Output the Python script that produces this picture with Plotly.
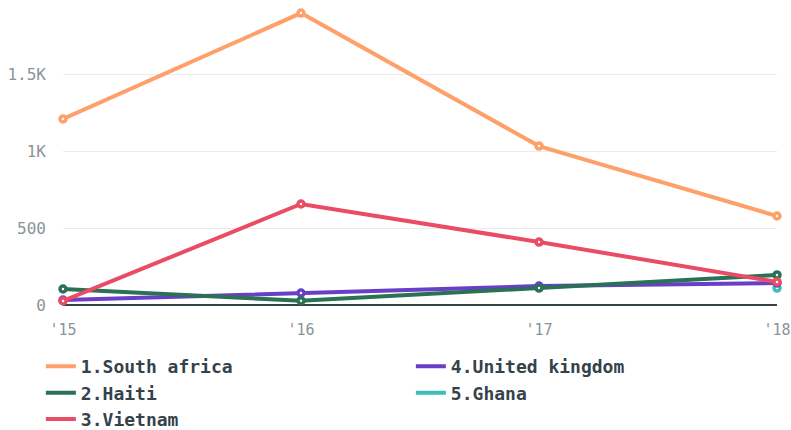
import plotly.graph_objects as go

years = [2015, 2016, 2017, 2018]
year_labels = ["'15", "'16", "'17", "'18"]

south_africa = [1208, 1896, 1032, 578]
haiti = [104, 28, 110, 195]
vietnam = [26, 656, 409, 150]
united_kingdom = [32, 78, 123, 143]
ghana = [None, None, None, 110]

series = [
    ("5.Ghana", ghana, "#3bbdb9", 4),
    ("4.United kingdom", united_kingdom, "#6a3fc8", 2),
    ("2.Haiti", haiti, "#2a7155", 3),
    ("3.Vietnam", vietnam, "#ea4c64", 5),
    ("1.South africa", south_africa, "#ffa06b", 1),
]

fig = go.Figure()
for name, vals, color, rank in series:
    fig.add_trace(go.Scatter(
        x=years, y=vals, name=name, mode="lines",
        line=dict(color=color, width=4),
        legendrank=rank, cliponaxis=False,
    ))
    fig.add_trace(go.Scatter(
        x=years, y=vals, name=name, mode="markers", showlegend=False,
        marker=dict(color="white", size=6, line=dict(color=color, width=3.5)),
        cliponaxis=False, hoverinfo="skip",
    ))

fig.update_layout(
    width=791, height=430,
    margin=dict(l=63, r=14, t=8, b=125, autoexpand=False),
    plot_bgcolor="white", paper_bgcolor="white",
    font=dict(family="DejaVu Sans Mono", color="#8a9499", size=16),
    xaxis=dict(range=[2015, 2018], tickvals=years, ticktext=year_labels,
               showgrid=False, zeroline=False, showline=False, ticks="",
               tickfont=dict(size=15),
               ticklabelstandoff=14, automargin=False, ticklabeloverflow="allow"),
    yaxis=dict(range=[0, 1929], tickvals=[0, 500, 1000, 1500],
               ticktext=["0", "500", "1K", "1.5K"],
               showgrid=True, gridcolor="#ebebeb", gridwidth=1,
               zeroline=True, zerolinecolor="#36424a", zerolinewidth=2,
               showline=False, ticks="", ticklabelstandoff=16, automargin=False,
               ticklabeloverflow="allow"),
    legend=dict(orientation="h", x=-0.031, y=-0.145, xanchor="left", yanchor="top",
                entrywidth=325, entrywidthmode="pixels",
                font=dict(family="DejaVu Sans Mono", size=18, color="#36424a", weight="bold"),
                traceorder="normal", tracegroupgap=0),
    showlegend=True,
)

fig.write_html(
    "out.html",
    config={"displayModeBar": False},
    post_script="document.body.style.margin='0';document.body.style.overflow='hidden';",
)
